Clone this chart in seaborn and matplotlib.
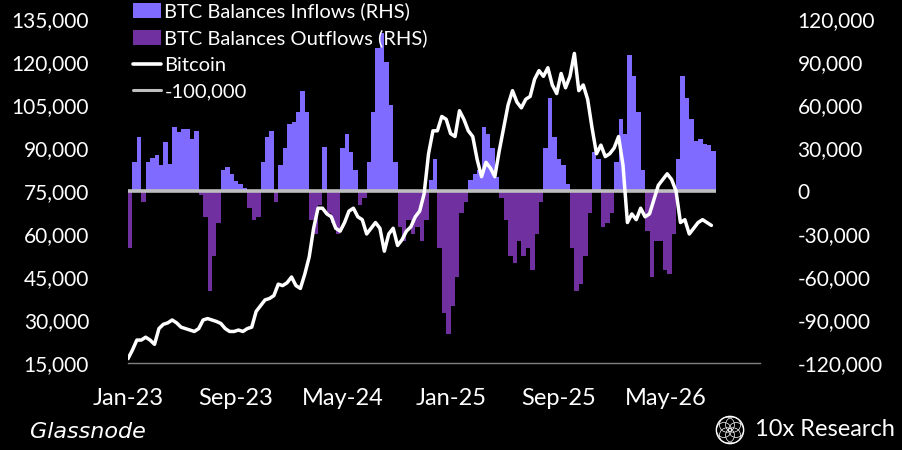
import numpy as np
import pandas as pd
import matplotlib
matplotlib.use("Agg")
import matplotlib.pyplot as plt
import matplotlib.ticker as mticker
from matplotlib.patches import Patch, Circle
from matplotlib.lines import Line2D
import seaborn as sns

# ---------------- data ----------------
start_date = "2023-01-01"
step_days = 10

# net BTC balance change, thousands of BTC (positive = inflow, negative = outflow)
net_flows_k = [
    -40, 20, 38, -8, 20, 23, 25, 18, 34, 19,
    45, 41, 43, 43, 36, 42, -3, -18, -70, -45,
    -22, 15, 17, 12, 7, 5, 2, -12, -20, -18,
    20, 38, 42, -8, 18, 30, 47, 48, 55, 70,
    55, -20, -30, -10, 31, -15, -22, -30, 30, 40,
    27, 15, -10, -5, 20, 55, 100, 110, 90, 60,
    20, -25, -35, -20, -30, -25, -35, -20, 8, 22,
    -40, -85, -100, -80, -60, -15, -8, 8, 12, 15,
    45, 40, 30, 10, -5, -20, -45, -50, -35, -45,
    -40, -55, -30, -8, 30, 65, 38, 22, 18, 5,
    -40, -70, -65, -45, -15, 27, 22, -25, -22, -15,
    20, 50, 40, 95, 80, 55, 15, -28, -60, -35,
    -35, -55, -58, -30, 22, 80, 65, 50, 35, 36,
    33, 32, 28,
]

# Bitcoin price, thousands of USD
bitcoin_k = [
    16.5, 19.5, 23, 23, 24, 23, 21.5, 27, 28.5, 29,
    30, 29, 27.5, 27, 26.5, 26, 27, 30, 30.5, 30,
    29.5, 28.8, 27, 26, 26, 26.5, 26, 27, 27.5, 33,
    35, 37, 37.5, 38.5, 42.5, 42, 43, 45, 42, 41,
    46, 52, 62, 69, 69, 67, 66, 62, 61, 64,
    68, 69, 66, 65, 60, 62, 64, 62, 54, 60,
    62, 56, 58, 61, 62.5, 66, 68, 74, 88, 96,
    96, 101, 100, 95, 94, 103, 100, 96, 94, 86,
    80, 85, 83, 80, 89, 97, 105, 110, 106, 104,
    107, 108, 114, 117, 115, 118, 112, 109, 116, 111,
    115, 123, 110, 112, 107, 97, 88, 91, 87, 88,
    90, 94, 84, 64, 67, 65, 69, 66, 67, 72,
    77, 79, 81, 79, 75, 64, 65, 60, 62, 64,
    65, 64, 63,
]

ref_level = 0
x_start, x_end = "2023-01-01", "2026-12-01"
tick_dates = ["2023-01-01", "2023-09-01", "2024-05-01", "2025-01-01", "2025-09-01", "2026-05-01"]
tick_labels = ["Jan-23", "Sep-23", "May-24", "Jan-25", "Sep-25", "May-26"]
left_ticks = list(range(15000, 135001, 15000))
right_ticks = list(range(-120000, 120001, 30000))

labels = ["BTC Balances Inflows (RHS)", "BTC Balances Outflows (RHS)", "Bitcoin", "-100,000"]

# ---------------- derived ----------------
n = len(net_flows_k)
dates = pd.Timestamp(start_date) + pd.to_timedelta(np.arange(n) * step_days, unit="D")
flows = np.array(net_flows_k, dtype=float) * 1000
inflow = np.where(flows > 0, flows, 0)
outflow = np.where(flows < 0, flows, 0)
btc = np.array(bitcoin_k, dtype=float) * 1000
df = pd.DataFrame({"date": dates, "btc": btc})

IN_C = "#7F6BFF"
OUT_C = "#7030A0"
REF_C = "#BFBFBF"

sns.set_theme(style="dark", rc={
    "axes.facecolor": "black",
    "figure.facecolor": "black",
    "savefig.facecolor": "black",
    "axes.grid": False,
})
plt.rcParams["font.family"] = ["Lato", "DejaVu Sans"]

W, H = 902, 450
fig = plt.figure(figsize=(W / 100, H / 100), dpi=100)
fig.patch.set_facecolor("black")
ax1 = fig.add_axes([128 / W, 87 / H, 632 / W, 344 / H])
ax1.set_facecolor("black")
ax2 = ax1.twinx()

# flows on ax1 (right-hand scale)
ax1.bar(dates, inflow, width=step_days, align="edge", color=IN_C, linewidth=0, zorder=2)
ax1.bar(dates, outflow, width=step_days, align="edge", color=OUT_C, linewidth=0, zorder=2)
ax1.plot([dates[0], dates[-1] + pd.Timedelta(days=step_days)], [ref_level, ref_level],
         color=REF_C, lw=2.6, zorder=3, solid_capstyle="butt")

# bitcoin on ax2 (left-hand scale)
sns.lineplot(data=df, x="date", y="btc", ax=ax2, color="white", lw=2.5, zorder=4)

ax1.set_ylim(right_ticks[0], right_ticks[-1])
ax2.set_ylim(left_ticks[0], left_ticks[-1])
ax1.set_xlim(pd.Timestamp(x_start), pd.Timestamp(x_end))

ax1.yaxis.tick_right()
ax2.yaxis.tick_left()
ax1.set_yticks(right_ticks)
ax2.set_yticks(left_ticks)
fmt = mticker.FuncFormatter(lambda v, p: f"{v:,.0f}")
ax1.yaxis.set_major_formatter(fmt)
ax2.yaxis.set_major_formatter(fmt)
ax1.set_xticks(pd.to_datetime(tick_dates))
ax1.set_xticklabels(tick_labels)

for ax in (ax1, ax2):
    ax.set_xlabel("")
    ax.set_ylabel("")
    for s in ax.spines.values():
        s.set_visible(False)
ax1.spines["bottom"].set_visible(True)
ax1.spines["bottom"].set_color("#808080")
ax1.spines["bottom"].set_linewidth(1.0)

ax1.tick_params(axis="y", colors="white", labelsize=15, length=0, pad=27)
ax2.tick_params(axis="y", colors="white", labelsize=15, length=0, pad=28)
ax1.tick_params(axis="x", colors="white", labelsize=17, length=0, pad=18)
ax2.tick_params(axis="x", length=0)

handles = [
    Patch(facecolor=IN_C, edgecolor="none"),
    Patch(facecolor=OUT_C, edgecolor="none"),
    Line2D([0], [0], color="white", lw=2.6),
    Line2D([0], [0], color=REF_C, lw=2.2),
]
leg = ax2.legend(handles, labels, loc="upper left", bbox_to_anchor=(0.008, 1.048),
                 frameon=False, fontsize=14.5, labelcolor="white", borderpad=0,
                 borderaxespad=0, handlelength=1.4, handleheight=0.75,
                 handletextpad=0.15, labelspacing=0.45)

# footer
fig.text(30 / W, 1 - 432 / H, "Glassnode", color="white", fontsize=16,
         fontstyle="italic", family=["DejaVu Sans"], va="center", ha="left")
fig.text(755 / W, 1 - 430 / H, "10x Research", color="white", fontsize=17,
         va="center", ha="left")
lax = fig.add_axes([715 / W, 1 - 445 / H, 30 / W, 30 / H])
lax.set_xlim(-1.1, 1.1)
lax.set_ylim(-1.1, 1.1)
lax.set_aspect("equal")
lax.axis("off")
lax.add_patch(Circle((0, 0), 1.0, fill=False, ec="white", lw=1.0))
for ang in np.linspace(0, 2 * np.pi, 6, endpoint=False):
    lax.add_patch(Circle((0.45 * np.cos(ang), 0.45 * np.sin(ang)), 0.55,
                         fill=False, ec="white", lw=0.5))

fig.savefig("out.png", dpi=100, facecolor="black")
